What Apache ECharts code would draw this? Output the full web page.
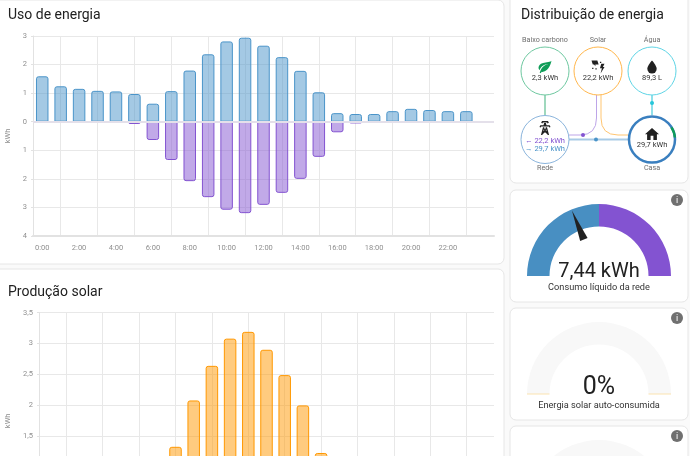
<!DOCTYPE html>
<html>
<head>
<meta charset="utf-8">
<style>
html,body{margin:0;padding:0;width:690px;height:456px;overflow:hidden;background:#fafafa}
#main{width:690px;height:600px}
</style>
<script src="https://cdn.jsdelivr.net/npm/echarts@6/dist/echarts.min.js"></script>
</head>
<body>
<div id="main"></div>
<script>
// horas 0:00 .. 23:00, mais uma faixa vazia no fim
var hours = ['0:00','1:00','2:00','3:00','4:00','5:00','6:00','7:00','8:00','9:00','10:00','11:00','12:00','13:00','14:00','15:00','16:00','17:00','18:00','19:00','20:00','21:00','22:00','23:00',''];
var fromGrid = [1.59,1.24,1.15,1.08,1.06,0.97,0.63,1.07,1.79,2.36,2.81,2.94,2.66,2.26,1.78,1.03,0.30,0.27,0.27,0.37,0.45,0.41,0.37,0.37];
var toGrid = [0,0,0,0,0,0.08,0.64,1.34,2.08,2.64,3.08,3.20,2.91,2.49,2.00,1.23,0.37,0.06,0,0,0,0,0,0];
var solar = [0,0,0,0,0,0.08,0.64,1.33,2.08,2.64,3.08,3.19,2.90,2.49,2.00,1.23,0.37,0.06,0,0,0,0,0,0];

var netGrid = 7.44, gaugeRange = 29.76;
var selfUsed = 0, thirdGauge = 0;

var FONT = 'Roboto';
var TXT = '#212121', GREY = '#6e6e6e', AXIS = '#8f8f8f', LINE = '#e8e8e8';
var BLUE = '#4a94c9', PURPLE = '#8353d1', ORANGE = '#ff9800';

function comma(v){ return String(v).replace('.', ','); }

function xAxis(idx){
  return {
    type:'category', gridIndex:idx, data:hours, boundaryGap:true,
    axisLine:{onZero:false, lineStyle:{color:'#e2e2e2', width:2}},
    axisTick:{alignWithLabel:true, length:5, lineStyle:{color:'#dcdcdc'}, interval:function(i){return i%2==1 && i<24;}},
    axisLabel:{color:AXIS, fontSize:7.5, fontFamily:FONT, margin:8, interval:function(i){return i%2==0;}},
    splitLine:{show:true, alignWithLabel:true, lineStyle:{color:LINE}, interval:function(i){return i%2==1 && i<24;}}
  };
}
function yAxis(idx, opt){
  return Object.assign({
    type:'value', gridIndex:idx, name:'kWh', nameLocation:'middle', nameRotate:90,
    nameTextStyle:{color:AXIS, fontSize:7.5, fontFamily:FONT},
    axisLine:{show:true, lineStyle:{color:'#e2e2e2'}},
    axisTick:{show:true, length:2, lineStyle:{color:'#e2e2e2'}},
    splitLine:{lineStyle:{color:LINE}}
  }, opt);
}
function bars(name, idx, data, fill, border, radius){
  return {
    name:name, type:'bar', xAxisIndex:idx, yAxisIndex:idx, stack:'s'+idx, data:data, barWidth:12.5,
    itemStyle:{color:fill, borderColor:border, borderWidth:1, borderRadius:radius},
    silent:true
  };
}
function gauge(cx, cy, min, max, value, colors, text, name, size, dy, ticks, pointer){
  return {
    type:'gauge', center:[cx, cy], radius:72, startAngle:180, endAngle:0, min:min, max:max, splitNumber:1, silent:true,
    axisLine:{lineStyle:{width:22.5, color:colors}},
    axisTick:{show:false}, axisLabel:{show:false},
    splitLine:ticks ? {show:true, distance:-22.5, length:22.5, lineStyle:{color:'#fbe3b0', width:1}} : {show:false},
    pointer:pointer ? {show:true, icon:'triangle', length:31, width:8, offsetCenter:[0,-39.5], itemStyle:{color:'#212121'}} : {show:false},
    anchor:{show:false},
    title:{offsetCenter:[0,12], color:'#333', fontSize:9.2, fontFamily:FONT},
    detail:{offsetCenter:[0,dy], color:TXT, fontSize:size, fontWeight:'normal', fontFamily:FONT, formatter:function(){return text;}},
    data:[{value:value, name:name}]
  };
}

// elementos fixos
function card(x,y,w,h){ return {type:'rect', z:-10, shape:{x:x,y:y,width:w,height:h,r:6}, style:{fill:'#fff', stroke:'#e6e6e6', lineWidth:1}}; }
function label(x,y,t,size,color,align){ return {type:'text', z:20, x:x, y:y, style:{text:t, fontSize:size, fontFamily:FONT, fill:color, align:align||'center', verticalAlign:'middle'}}; }
function ring(x,y,r,color,w){ return {type:'circle', z:3, shape:{cx:x,cy:y,r:r}, style:{fill:'#fff', stroke:color, lineWidth:w||1}}; }
function dot(x,y,color){ return {type:'circle', z:5, shape:{cx:x,cy:y,r:2}, style:{fill:color}}; }
function line(x1,y1,x2,y2,color,w){ return {type:'line', shape:{x1:x1,y1:y1,x2:x2,y2:y2}, style:{stroke:color, lineWidth:w}}; }
function curve(x1,y1,cx,cy,x2,y2,color,w){ return {type:'bezierCurve', shape:{x1:x1,y1:y1,cpx1:cx,cpy1:cy,x2:x2,y2:y2}, style:{fill:null, stroke:color, lineWidth:w}}; }
function info(x,y){ return [ {type:'circle', z:19, shape:{cx:x,cy:y,r:6}, style:{fill:'#707070'}}, label(x,y+0.5,'i',9,'#fff') ]; }

var P_LEAF='M17,8C8,10 5.9,16.17 3.82,21.34L5.71,22L6.66,19.7C7.14,19.87 7.64,20 8,20C19,20 22,3 22,3C21,5 14,5.25 9,6.25C4,7.25 2,11.5 2,13.5C2,15.5 3.75,17.25 3.75,17.25C7,8 17,8 17,8Z';
var P_DROP='M12,21A6.5,6.5 0 0,1 5.5,14.5C5.5,10 12,3 12,3C12,3 18.5,10 18.5,14.5A6.5,6.5 0 0,1 12,21Z';
var P_HOME='M10,20V14H14V20H19V12H22L12,3L2,12H5V20H10Z';
var P_TOWER='M8.28,5.45L6.5,4.55L7.76,2H16.23L17.5,4.55L15.72,5.44L15,4H9L8.28,5.45M18.62,8H14.09L13.3,5H10.7L9.91,8H5.38L4.1,10.55L5.89,11.44L6.62,10H17.38L18.1,11.45L19.89,10.56L18.62,8M17.77,22H15.7L15.46,21.06L12,18.07L8.55,21.06L8.3,22H6.23L9.12,11H11.19L10.83,12.37L12,13.38L13.17,12.37L12.81,11H14.88L17.77,22M11.32,15L10.2,14.03L9.56,16.5L11.32,15M12.68,15L14.44,16.5L13.8,14.03L12.68,15Z';
var P_SUN='M2,3H11L13,9H8V12L6,9H4ZM15,5H17V7H15ZM3,14H5V16H3ZM8,15H10V17H8ZM17,8H22L19.5,13H22L16,23L18,15H15Z';

var icons = [
  {d:P_LEAF, x:545, y:67, s:13, c:'#0f9d58'},
  {d:P_SUN, x:598, y:67, s:13, c:'#212121'},
  {d:P_DROP, x:652, y:67, s:13, c:'#212121'},
  {d:P_TOWER, x:545, y:128, s:14, c:'#212121'},
  {d:P_HOME, x:652, y:134, s:14, c:'#212121'}
];

var graphics = [
  card(-6,0,510,264), card(-6,269,510,300),
  card(510,-6,178,189), card(510,190,178,112), card(510,308,178,112), card(510,426,178,114),
  label(8,15,'Uso de energia',14,TXT,'left'),
  label(8,292,'Produção solar',14,TXT,'left'),
  label(521,15,'Distribuição de energia',14,TXT,'left'),
  // ligações
  line(545,95,545,115,'#9fd8bd',2),
  line(652,95,652,115,'#8fe0ea',2),
  line(596.5,95,596.5,118,'#bda5e8',1), curve(596.5,118,596.5,135,580,135,'#bda5e8',1), line(580,135,569,135,'#bda5e8',1),
  line(601,95,601,118,'#ffc571',1), curve(601,118,601,135,618,135,'#ffc571',1), line(618,135,628,135,'#ffc571',1),
  line(569,139.5,628,139.5,'#a9cbe6',2),
  dot(583,135,PURPLE), dot(596,139.5,BLUE), dot(652,103,'#26c6da'),
  // nós
  ring(545,71,24,'#6ec8a0'), ring(598,71,24,'#ffb74d'), ring(652,71,24,'#5fd5e6'),
  ring(545,139.5,24,'#8ab4dc'), ring(652,139.5,23,'#3a7fbf',2.5),
  {type:'arc', z:4, shape:{cx:652,cy:139.5,r:23,startAngle:-32*Math.PI/180,endAngle:-5*Math.PI/180}, style:{fill:null, stroke:'#0f9d58', lineWidth:2.5}},
  label(545,40,'Baixo carbono',7.2,GREY), label(598,40,'Solar',7.2,GREY), label(652,40,'Água',7.2,GREY),
  label(545,168,'Rede',7.2,GREY), label(652,168,'Casa',7.2,GREY),
  label(545,78,'2,3 kWh',7.5,'#333'), label(598,78,'22,2 kWh',7.5,'#333'), label(652,78,'89,3 L',7.5,'#333'),
  label(545,141,'← 22,2 kWh',7.5,PURPLE), label(545,149,'→ 29,7 kWh',7.5,BLUE), label(652,145,'29,7 kWh',7.5,'#333')
].concat(info(677,200), info(677,318), info(677,436));

var usedBars = bars('Devolvido', 0, toGrid.map(function(v){return v ? -v : null;}), 'rgba(131,83,209,0.5)', PURPLE, [0,0,2,2]);
// a linha do zero tapa o contorno das barras
usedBars.markLine = {silent:true, symbol:'none', label:{show:false}, animation:false, data:[{yAxis:0}], lineStyle:{color:'#e4e0ea', width:2, type:'solid'}};

var chart = echarts.init(document.getElementById('main'), null, {renderer:'canvas'});
chart.setOption({
  backgroundColor:'#fafafa',
  animation:false,
  textStyle:{fontFamily:FONT},
  graphic:{elements:graphics},
  grid:[
    {left:33, top:36, width:461, height:200, outerBoundsMode:'none'},
    {left:39, top:312.7, width:455, height:216.3, outerBoundsMode:'none'}
  ],
  xAxis:[xAxis(0), xAxis(1)],
  yAxis:[
    yAxis(0,{min:-4, max:3, interval:1, nameGap:18,
      axisLabel:{color:AXIS, fontSize:7.5, fontFamily:FONT, margin:6, formatter:function(v){return Math.abs(v);}}}),
    yAxis(1,{min:0, max:3.5, interval:0.5, nameGap:24,
      axisLabel:{color:AXIS, fontSize:7.5, fontFamily:FONT, margin:6, formatter:function(v){return comma(v);}}})
  ],
  series:[
    bars('Rede', 0, fromGrid, 'rgba(74,148,201,0.5)', BLUE, [2,2,0,0]),
    usedBars,
    bars('Solar', 1, solar.map(function(v){return v || null;}), 'rgba(255,152,0,0.5)', ORANGE, [2,2,0,0]),
    gauge(599,276,gaugeRange,-gaugeRange,netGrid,[[0.5,'#488fc2'],[1,'#8353d1']],comma(netGrid)+' kWh','Consumo líquido da rede',20,-4,false,true),
    gauge(599,394,0,100,selfUsed,[[1,'#f8f8f8']],selfUsed+'%','Energia solar auto-consumida',25,-6,true,false),
    gauge(599,512,0,100,thirdGauge,[[1,'#f8f8f8']],thirdGauge+'%','',25,-6,true,false),
    {
      type:'custom', coordinateSystem:'none', silent:true, z:10, data:[0],
      renderItem:function(){
        return {type:'group', children:icons.map(function(ic){
          return {type:'path', shape:{pathData:ic.d, x:ic.x-ic.s/2, y:ic.y-ic.s/2, width:ic.s, height:ic.s}, style:{fill:ic.c}};
        })};
      }
    }
  ]
});
</script>
</body>
</html>
